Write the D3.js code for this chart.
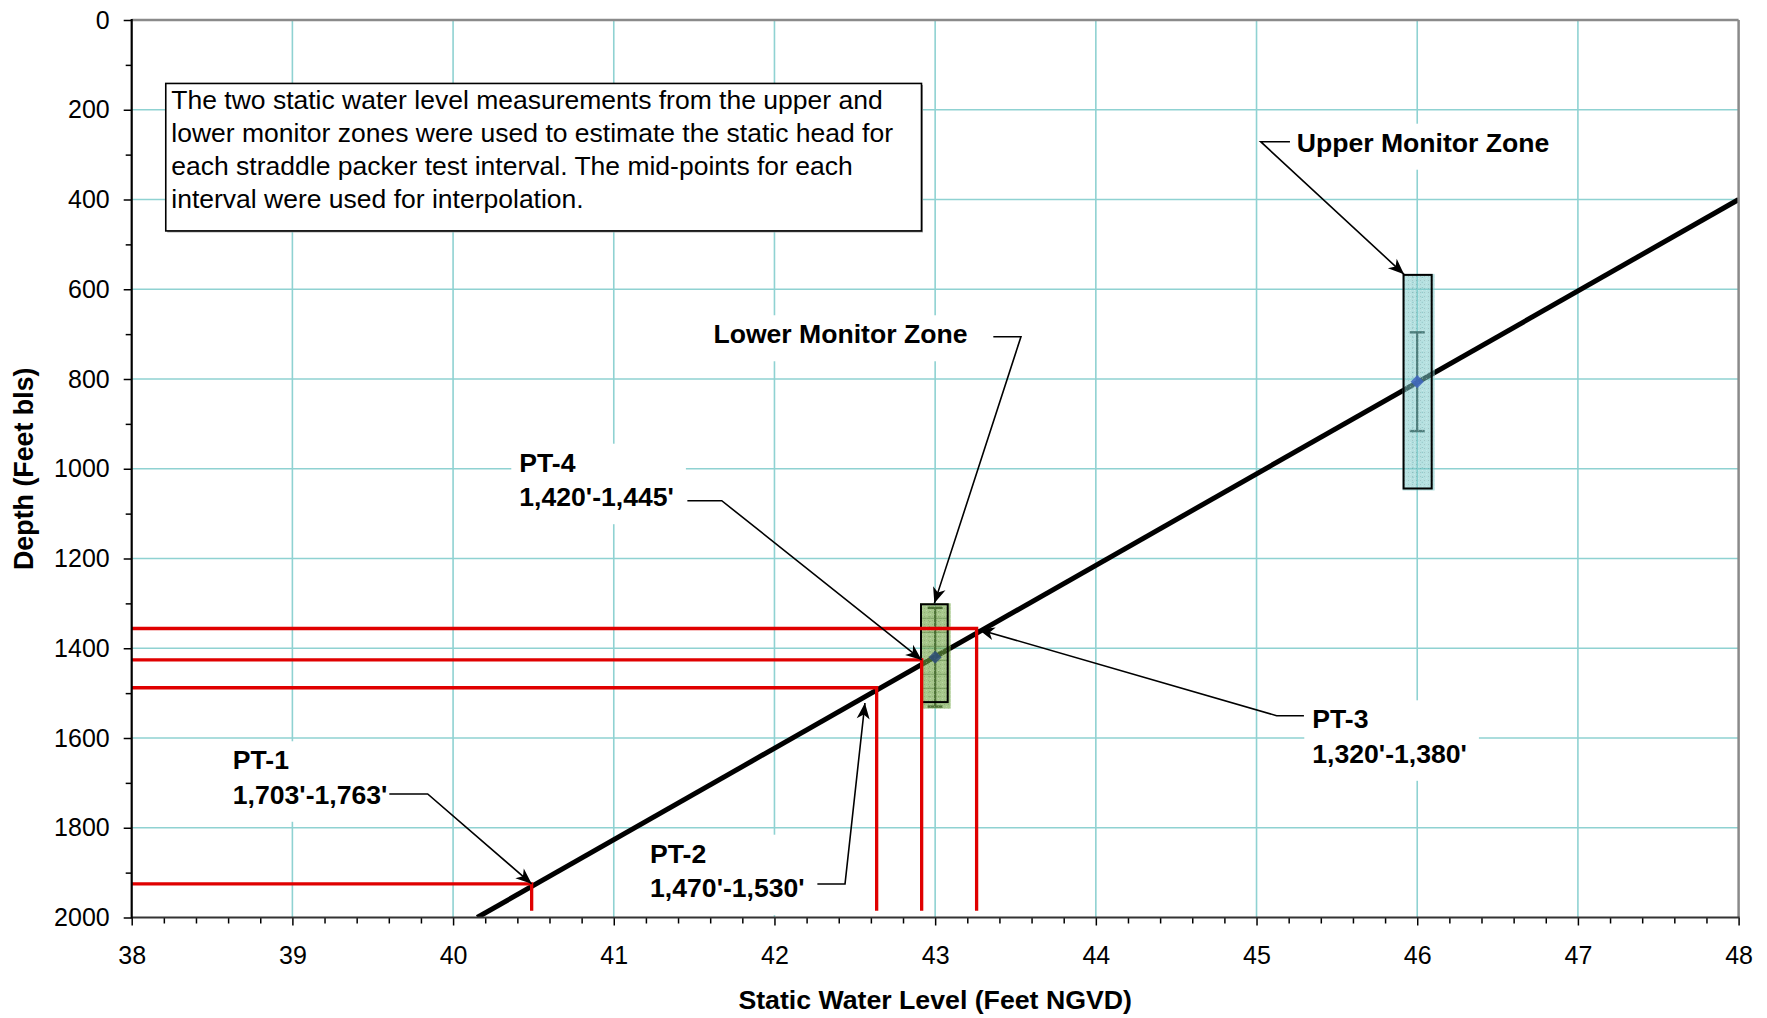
<!DOCTYPE html>
<html>
<head>
<meta charset="utf-8">
<script src="https://cdn.jsdelivr.net/npm/d3@7"></script>
<style>
  body { margin: 0; background: #fff; }
  svg { display: block; }
  text { font-family: "Liberation Sans", Arial, Helvetica, sans-serif; fill: #000; }
</style>
</head>
<body>
<svg id="chart" width="1767" height="1018"></svg>
<script>
// ---- data -------------------------------------------------------------
const levelTicks = [38, 39, 40, 41, 42, 43, 44, 45, 46, 47, 48];
const depthTicks = [0, 200, 400, 600, 800, 1000, 1200, 1400, 1600, 1800, 2000];

// interpolated static head line (Static Water Level vs depth)
const headLine = [
  { level: 40.15, depth: 2000 },
  { level: 48.0,  depth: 400 }
];

// monitor zone measurements: point, error bar and zone extent
const zoneNames   = ["Upper Monitor Zone", "Lower Monitor Zone"];
const zoneLevels  = [46.0, 43.0];
const zoneDepths  = [806, 1420];
const zoneErrors  = [110, 110];
const zoneTops    = [568, 1302];
const zoneBottoms = [1044, 1520];
const zoneLevelLo = [45.915, 42.912];
const zoneLevelHi = [46.09, 43.078];
const zoneFills   = ["#7cc8c8", "#6fa443"];

// straddle packer test intervals and interpolated heads
const testNames     = ["PT-1", "PT-2", "PT-3", "PT-4"];
const testIntervals = ["1,703'-1,763'", "1,470'-1,530'", "1,320'-1,380'", "1,420'-1,445'"];
const testLevels    = [40.489, 42.636, 43.258, 42.916];
const testDepths    = [1925, 1488, 1356, 1426];
const dropDepth     = 1985;

const noteLines = [
  "The two static water level measurements from the upper and",
  "lower monitor zones were used to estimate the static head for",
  "each straddle packer test interval. The mid-points for each",
  "interval were used for interpolation."
];

// callout labels (anchored in chart units)
const callouts = [
  { lines: ["PT-1", testIntervals[0]], level: 38.629, depth: 1669.7,
    leader: [[39.603, 1724.8], [39.842, 1724.8], [testLevels[0], testDepths[0]]] },
  { lines: ["PT-2", testIntervals[1]], level: 41.226, depth: 1877.9,
    leader: [[42.267, 1925.3], [42.439, 1925.3], [42.563, 1522]] },
  { lines: ["PT-3", testIntervals[2]], level: 45.347, depth: 1578.4,
    leader: [[45.295, 1550.3], [45.125, 1550.3], [43.27, 1358]] },
  { lines: ["PT-4", testIntervals[3]], level: 40.412, depth: 1006.6,
    leader: [[41.458, 1071.2], [41.672, 1071.2], [testLevels[3], testDepths[3]]] },
  { lines: [zoneNames[1]], level: 41.62, depth: 720.4,
    leader: [[43.362, 705.7], [43.534, 705.7], [42.995, 1300]] },
  { lines: [zoneNames[0]], level: 45.25, depth: 293.5,
    leader: [[45.208, 271.2], [45.026, 271.2], [45.918, 566.7]] }
];

// ---- layout -----------------------------------------------------------
const svg = d3.select("#chart");
const plotL = 131.7, plotR = 1738.6, plotT = 20, plotB = 917.5;

const x = d3.scaleLinear().domain([38, 48]).range([plotL, plotR]);
const y = d3.scaleLinear().domain([0, 2000]).range([plotT, plotB]);

const defs = svg.append("defs");
defs.append("clipPath").attr("id", "plotClip")
  .append("rect").attr("x", plotL).attr("y", plotT)
  .attr("width", plotR - plotL).attr("height", plotB - plotT);

defs.append("marker")
  .attr("id", "arrow")
  .attr("viewBox", "-17 -8 18 16")
  .attr("markerWidth", 18).attr("markerHeight", 16)
  .attr("refX", 0).attr("refY", 0)
  .attr("markerUnits", "userSpaceOnUse")
  .attr("orient", "auto")
  .append("path")
  .attr("d", "M0,0 L-16,-6.5 L-11.5,0 L-16,6.5 Z")
  .attr("fill", "#000");

// speckled texture for the zone boxes
const pat = defs.append("pattern").attr("id", "speckle")
  .attr("width", 4).attr("height", 4).attr("patternUnits", "userSpaceOnUse");
pat.append("rect").attr("x", 0).attr("y", 0).attr("width", 1).attr("height", 1)
  .attr("fill", "#000").attr("fill-opacity", 0.12);
pat.append("rect").attr("x", 2).attr("y", 2).attr("width", 1).attr("height", 1)
  .attr("fill", "#fff").attr("fill-opacity", 0.25);

// ---- grid ---------------------------------------------------------------
const grid = svg.append("g").attr("stroke", "#8fd2d2").attr("stroke-width", 1.6);
grid.selectAll("line.v").data(levelTicks.slice(1, -1)).join("line")
  .attr("class", "v")
  .attr("x1", d => x(d)).attr("x2", d => x(d))
  .attr("y1", plotT).attr("y2", plotB);
grid.selectAll("line.h").data(depthTicks.slice(1, -1)).join("line")
  .attr("class", "h")
  .attr("x1", plotL).attr("x2", plotR)
  .attr("y1", d => y(d)).attr("y2", d => y(d));

// ---- note box -----------------------------------------------------------
const noteX = x(38.212), noteY = y(141.4);
const noteW = x(42.915) - noteX, noteH = y(470) - noteY;
svg.append("rect").attr("x", noteX + 1.5).attr("y", noteY + 1.5)
  .attr("width", noteW).attr("height", noteH).attr("fill", "#9a9a9a");
svg.append("rect").attr("x", noteX).attr("y", noteY)
  .attr("width", noteW).attr("height", noteH)
  .attr("fill", "#fff").attr("stroke", "#000").attr("stroke-width", 1.6);
svg.append("g").selectAll("text").data(noteLines).join("text")
  .attr("x", noteX + 5.5)
  .attr("y", (d, i) => noteY + 25.5 + i * 33)
  .attr("font-size", 26.5)
  .text(d => d);

// ---- head line ----------------------------------------------------------
const plot = svg.append("g").attr("clip-path", "url(#plotClip)");
plot.append("path").datum(headLine)
  .attr("d", d3.line().x(d => x(d.level)).y(d => y(d.depth)))
  .attr("fill", "none").attr("stroke", "#000").attr("stroke-width", 5);

// ---- monitor zones --------------------------------------------------------
zoneNames.forEach((name, i) => {
  const g = plot.append("g");
  const cx = x(zoneLevels[i]), cy = y(zoneDepths[i]);
  // error bar
  const e0 = y(zoneDepths[i] - zoneErrors[i]), e1 = y(zoneDepths[i] + zoneErrors[i]);
  g.append("line").attr("x1", cx).attr("x2", cx).attr("y1", e0).attr("y2", e1)
    .attr("stroke", "#1a2420").attr("stroke-width", 2.2);
  [e0, e1].forEach(ey => g.append("line")
    .attr("x1", cx - 7.5).attr("x2", cx + 7.5).attr("y1", ey).attr("y2", ey)
    .attr("stroke", "#1a2420").attr("stroke-width", 2.4));
  // zone fill
  const bx0 = x(zoneLevelLo[i]), bx1 = x(zoneLevelHi[i]);
  const by0 = y(zoneTops[i]), by1 = y(zoneBottoms[i]);
  const fillBottom = Math.max(by1, e1) + 2;
  g.append("rect").attr("x", bx0 - 1).attr("y", by0 - 1)
    .attr("width", bx1 - bx0 + 4).attr("height", fillBottom - by0 + 1)
    .attr("fill", zoneFills[i]).attr("fill-opacity", i === 0 ? 0.55 : 0.62);
  g.append("rect").attr("x", bx0 - 1).attr("y", by0 - 1)
    .attr("width", bx1 - bx0 + 4).attr("height", fillBottom - by0 + 1)
    .attr("fill", "url(#speckle)");
  // faint dotted verticals inside the zone
  [1 / 3, 2 / 3].forEach(f => g.append("line")
    .attr("x1", bx0 + (bx1 - bx0) * f).attr("x2", bx0 + (bx1 - bx0) * f)
    .attr("y1", by0 + 2).attr("y2", by1 - 2)
    .attr("stroke", i === 0 ? "#5aa8a8" : "#4e7a32").attr("stroke-opacity", 0.6)
    .attr("stroke-width", 1).attr("stroke-dasharray", "1,4"));
  if (i === 1) {
    d3.range(by0 + 14, by1 - 4, 14).forEach(hy => g.append("line")
      .attr("x1", bx0).attr("x2", bx1).attr("y1", hy).attr("y2", hy)
      .attr("stroke", "#3f6a28").attr("stroke-opacity", 0.45).attr("stroke-width", 1));
  }
  // point marker (square diamond)
  g.append("path")
    .attr("d", d3.symbol().type(d3.symbolDiamond2).size(110)())
    .attr("transform", `translate(${cx},${cy})`)
    .attr("fill", i === 0 ? "#3f66c0" : "#2f4f7a").attr("fill-opacity", 0.85);
  // outline
  g.append("rect").attr("x", bx0).attr("y", by0)
    .attr("width", bx1 - bx0).attr("height", by1 - by0)
    .attr("fill", "none").attr("stroke", "#000").attr("stroke-width", 2);
});

// ---- packer test projections ---------------------------------------------
const redLine = d3.line().x(d => x(d[0])).y(d => y(d[1]));
testNames.forEach((n, i) => {
  plot.append("path")
    .datum([[38, testDepths[i]], [testLevels[i], testDepths[i]], [testLevels[i], dropDepth]])
    .attr("d", redLine)
    .attr("fill", "none").attr("stroke", "#e00000").attr("stroke-width", 3.3)
    .attr("stroke-linejoin", "miter");
});

// ---- axes ---------------------------------------------------------------
const minorDepth = d3.range(100, 2000, 200);
const minorLevel = d3.range(38, 48.001, 0.2).filter(v => Math.abs(v - Math.round(v)) > 1e-6);

svg.append("g").attr("transform", `translate(${plotL},0)`)
  .call(d3.axisLeft(y).tickValues(depthTicks).tickSize(8).tickPadding(14).tickFormat(d3.format("d")));
svg.append("g").attr("transform", `translate(${plotL},0)`)
  .call(d3.axisLeft(y).tickValues(minorDepth).tickSize(6).tickFormat(""));

svg.append("g").attr("transform", `translate(0,${plotB})`)
  .call(d3.axisBottom(x).tickValues(levelTicks).tickSize(8).tickPadding(21).tickFormat(d3.format("d")));
svg.append("g").attr("transform", `translate(0,${plotB})`)
  .call(d3.axisBottom(x).tickValues(minorLevel).tickSize(6).tickFormat(""));

svg.selectAll(".domain").remove();
svg.selectAll(".tick line").attr("stroke", "#000").attr("stroke-width", 1.5);
svg.selectAll(".tick text").attr("font-size", 25)
  .attr("font-family", "'Liberation Sans', Arial, sans-serif").attr("fill", "#000");

// plot frame: grey top/right, black left/bottom
svg.append("line").attr("x1", plotL).attr("x2", plotR).attr("y1", plotT).attr("y2", plotT)
  .attr("stroke", "#8a8a8a").attr("stroke-width", 2.5);
svg.append("line").attr("x1", plotR).attr("x2", plotR).attr("y1", plotT).attr("y2", plotB)
  .attr("stroke", "#8a8a8a").attr("stroke-width", 2.5);
svg.append("line").attr("x1", plotL).attr("x2", plotR + 1).attr("y1", plotB).attr("y2", plotB)
  .attr("stroke", "#333").attr("stroke-width", 2.2);
svg.append("line").attr("x1", plotL).attr("x2", plotL).attr("y1", plotT - 1).attr("y2", plotB + 1)
  .attr("stroke", "#000").attr("stroke-width", 2.2);

// ---- callouts -------------------------------------------------------------
const lineGap = 34.5;
callouts.forEach(c => {
  const g = svg.append("g");
  const tx = x(c.level), ty = y(c.depth);
  const bg = g.append("rect").attr("fill", "#fff");
  const t = g.append("text").attr("font-size", 26.6).attr("font-weight", "bold");
  c.lines.forEach((s, i) => t.append("tspan").attr("x", tx).attr("y", ty + i * lineGap).text(s));
  const bb = t.node().getBBox();
  bg.attr("x", bb.x - 8).attr("y", bb.y - 4)
    .attr("width", bb.width + 20).attr("height", bb.height + 16);
});
const leaderLine = d3.line().x(d => x(d[0])).y(d => y(d[1]));
callouts.forEach(c => {
  svg.append("path").datum(c.leader)
    .attr("d", leaderLine)
    .attr("fill", "none").attr("stroke", "#000").attr("stroke-width", 1.6)
    .attr("marker-end", "url(#arrow)");
});

// ---- axis titles ------------------------------------------------------------
svg.append("text")
  .attr("transform", `translate(33,${(plotT + plotB) / 2}) rotate(-90)`)
  .attr("text-anchor", "middle")
  .attr("font-size", 26.8).attr("font-weight", "bold")
  .text("Depth (Feet bls)");
svg.append("text")
  .attr("x", (plotL + plotR) / 2).attr("y", 1009)
  .attr("text-anchor", "middle")
  .attr("font-size", 26.7).attr("font-weight", "bold")
  .text("Static Water Level (Feet NGVD)");
</script>
</body>
</html>
